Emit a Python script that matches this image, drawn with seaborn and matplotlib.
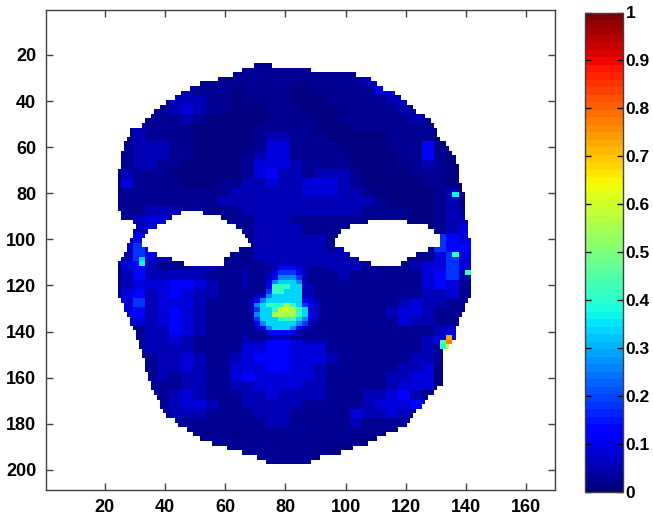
import numpy as np
import matplotlib
matplotlib.use("Agg")
import matplotlib.pyplot as plt
import seaborn as sns

# level per character of the rows below
levels = [0.01, 0.03, 0.055, 0.085, 0.125, 0.18, 0.25, 0.33, 0.42, 0.55]

# coarse face values, one char every 4 units, x = 24..140, y = 24..196
face_rows = [
    "00000" "00000" "00110" "00000" "00000" "00000",
    "00000" "00001" "11111" "11111" "11110" "00000",
    "00000" "01111" "11111" "11111" "12320" "00000",
    "00000" "12111" "01111" "00111" "11330" "00000",
    "00000" "22211" "01111" "00011" "11122" "00000",
    "00001" "23211" "00011" "10001" "11112" "10000",
    "00011" "12100" "00011" "11001" "11111" "21000",
    "00211" "11000" "00111" "11000" "11111" "11000",
    "00211" "11000" "00122" "11100" "00011" "11000",
    "01222" "11000" "00133" "11110" "00011" "14000",
    "01222" "11000" "01233" "11111" "00001" "14100",
    "01221" "10000" "01333" "21111" "00001" "12100",
    "02111" "00000" "01342" "21222" "10000" "11100",
    "03111" "10001" "12232" "23332" "10000" "01100",
    "01111" "11111" "22222" "23332" "21000" "00120",
    "01111" "11112" "22222" "22222" "22100" "00120",
    "01122" "21111" "12222" "22222" "21111" "00121",
    "01233" "11111" "11222" "11111" "11111" "00122",
    "01233" "11111" "11222" "21111" "11111" "00123",
    "01433" "21111" "11222" "22211" "11111" "11543",
    "02533" "21111" "11222" "22212" "11111" "11544",
    "02532" "21111" "11222" "22222" "22111" "11353",
    "03421" "11221" "11122" "22222" "21111" "23353",
    "02422" "22211" "12222" "22212" "11111" "13452",
    "12333" "44321" "12222" "22211" "11111" "13431",
    "13423" "43221" "11122" "22111" "11111" "12231",
    "13523" "33211" "11222" "22111" "11112" "32211",
    "13423" "43211" "11122" "23111" "11123" "32111",
    "12323" "43211" "11122" "22211" "11113" "22110",
    "01122" "43211" "11234" "22111" "11111" "11230",
    "00122" "32111" "12244" "32211" "11111" "12340",
    "00122" "22111" "13344" "33311" "11111" "12110",
    "00112" "23211" "23444" "33321" "11111" "22110",
    "00012" "23211" "33344" "33211" "11112" "23000",
    "00012" "12211" "34333" "33211" "11122" "33000",
    "00011" "12211" "22333" "32211" "11123" "33000",
    "00011" "23211" "12232" "22211" "12234" "21000",
    "00011" "23321" "12222" "21111" "12333" "42000",
    "00001" "22211" "11222" "11111" "32232" "00000",
    "00001" "11111" "11122" "11111" "21111" "00000",
    "00000" "01111" "11111" "11111" "11100" "00000",
    "00000" "00011" "11111" "11111" "10000" "00000",
    "00000" "00001" "11111" "11100" "00000" "00000",
    "00000" "00000" "00111" "11000" "00000" "00000",
]

# nose area, one char every 2 units, x = 68..92, y = 112..142
nose_rows = [
    "1111244432111",
    "1112355542111",
    "1112466652111",
    "1113677762111",
    "1114888772211",
    "1115887772211",
    "1236777772211",
    "2467777774321",
    "2678889875421",
    "2577899987321",
    "1677899987421",
    "1577788876321",
    "1467777765211",
    "1246777642111",
    "1113444321111",
    "1111222111111",
]

# small bright spots
spot_x = [134, 134, 134, 132, 132, 136, 78, 80, 76, 136, 130, 136, 32, 32, 140]
spot_y = [142, 144, 146, 144, 146, 148, 130, 130, 132, 106, 102, 80, 108, 110, 114]
spot_v = [0.72, 0.78, 0.60, 0.45, 0.42, 0.50, 0.62, 0.60, 0.55, 0.42, 0.40, 0.36, 0.33, 0.36, 0.42]

# face outline, one value every 2 units, y = 24..196
left_edge = [70, 66, 63, 58, 52, 49, 46, 44, 41, 39, 37, 36, 34, 33, 29, 29, 28, 27, 27, 26, 26, 26, 26,
             25, 25, 25, 25, 25, 25, 25, 25, 25, 26, 26, 30, 31, 30, 30, 29, 28, 28, 27, 26, 25,
             25, 25, 25, 25, 25, 25, 25, 26, 27, 27, 28, 29, 29, 30, 31, 31, 32, 32, 33, 33, 34, 34, 34,
             35, 35, 36, 36, 37, 38, 39, 39, 40, 41, 44, 45, 48, 50, 52, 56, 61, 66, 71, 74]
right_edge = [75, 88, 103, 108, 110, 112, 116, 118, 120, 122, 123, 126, 128, 129, 130, 130, 131, 133, 134,
              135, 136, 136, 137, 137, 137, 137, 138, 138, 139, 139, 139, 139, 139, 139, 140, 140, 140, 140,
              141, 141, 141, 141, 141, 141, 141, 141, 141, 141, 141, 141, 141, 140, 139, 139, 138, 137, 137,
              136, 136, 136, 135, 134, 132, 132, 132, 132, 132, 132, 132, 132, 130, 129, 127, 126, 125, 123,
              122, 121, 120, 117, 113, 110, 107, 102, 98, 91, 88]

# eye holes, one value every 2 units, y = 88..110
eye_l_start = [46, 43, 41, 38, 35, 34, 33, 33, 35, 38, 43, 47]
eye_l_end = [52, 58, 60, 63, 65, 66, 67, 68, 64, 61, 59, 59]
eye_r_start = [0, 0, 108, 102, 99, 98, 97, 97, 100, 102, 105, 109]
eye_r_end = [0, 0, 120, 127, 129, 131, 131, 131, 127, 123, 120, 118]

x_ticks = [20, 40, 60, 80, 100, 120, 140, 160]
y_ticks = [20, 40, 60, 80, 100, 120, 140, 160, 180, 200]
cbar_ticks = [0, 0.1, 0.2, 0.3, 0.4, 0.5, 0.6, 0.7, 0.8, 0.9, 1]
cbar_labels = ["0", "0.1", "0.2", "0.3", "0.4", "0.5", "0.6", "0.7", "0.8", "0.9", "1"]

n_rows, n_cols = 208, 169
face = np.zeros((n_rows, n_cols))
hidden = np.ones((n_rows, n_cols), dtype=bool)

for y in range(24, 198):
    i = min(max((y - 22) // 4, 0), len(face_rows) - 1)
    k = min((y - 24) // 2, len(left_edge) - 1)
    for x in range(20, 145):
        j = min(max((x - 22) // 4, 0), 29)
        face[y - 1, x - 1] = levels[int(face_rows[i][j])]
    hidden[y - 1, left_edge[k] - 1:right_edge[k]] = False

for r, row in enumerate(nose_rows):
    for c, ch in enumerate(row):
        y0, x0 = 112 + 2 * r, 68 + 2 * c
        face[y0 - 1:y0 + 1, x0 - 1:x0 + 1] = levels[int(ch)]

for x, y, v in zip(spot_x, spot_y, spot_v):
    face[y - 1:y + 1, x - 1:x + 1] = v

for r in range(len(eye_l_start)):
    y0 = 88 + 2 * r
    hidden[y0 - 1:y0 + 1, eye_l_start[r] - 1:eye_l_end[r]] = True
    if eye_r_start[r] > 0:
        hidden[y0 - 1:y0 + 1, eye_r_start[r] - 1:eye_r_end[r]] = True

plt.rcParams['font.family'] = ['Liberation Sans', 'DejaVu Sans']
W, H = 653, 519
fig = plt.figure(figsize=(W / 100, H / 100), dpi=100)
ax = fig.add_axes([45.9 / W, 1 - 489.5 / H, 509 / W, 479.5 / H])
cax = fig.add_axes([585 / W, 1 - 491.5 / H, 38 / W, 479 / H])

sns.heatmap(face, mask=hidden, cmap=plt.get_cmap('jet', 64), vmin=0, vmax=1, ax=ax, cbar_ax=cax,
            xticklabels=False, yticklabels=False, square=False)

edge = '#404040'
ax.set_xticks(np.array(x_ticks) - 0.5)
ax.set_xticklabels(x_ticks, rotation=0)
ax.set_yticks(np.array(y_ticks) - 0.5)
ax.set_yticklabels(y_ticks, rotation=0)
ax.tick_params(direction='in', length=5, width=1, color=edge, top=True, right=True, pad=7)
for side in ax.spines:
    ax.spines[side].set_visible(True)
    ax.spines[side].set_color(edge)
    ax.spines[side].set_linewidth(1)
for label in ax.get_xticklabels() + ax.get_yticklabels():
    label.set_fontsize(13)
    label.set_fontweight('bold')
    label.set_color('black')

cb = ax.collections[0].colorbar
cb.set_ticks(cbar_ticks)
cb.set_ticklabels(cbar_labels)
cb.outline.set_linewidth(1)
cb.outline.set_edgecolor(edge)
cax.tick_params(direction='in', length=4, width=1, color='black', left=True, right=True, pad=2)
for label in cax.get_yticklabels():
    label.set_fontsize(12.5)
    label.set_fontweight('bold')

fig.savefig("out.png", dpi=100)
